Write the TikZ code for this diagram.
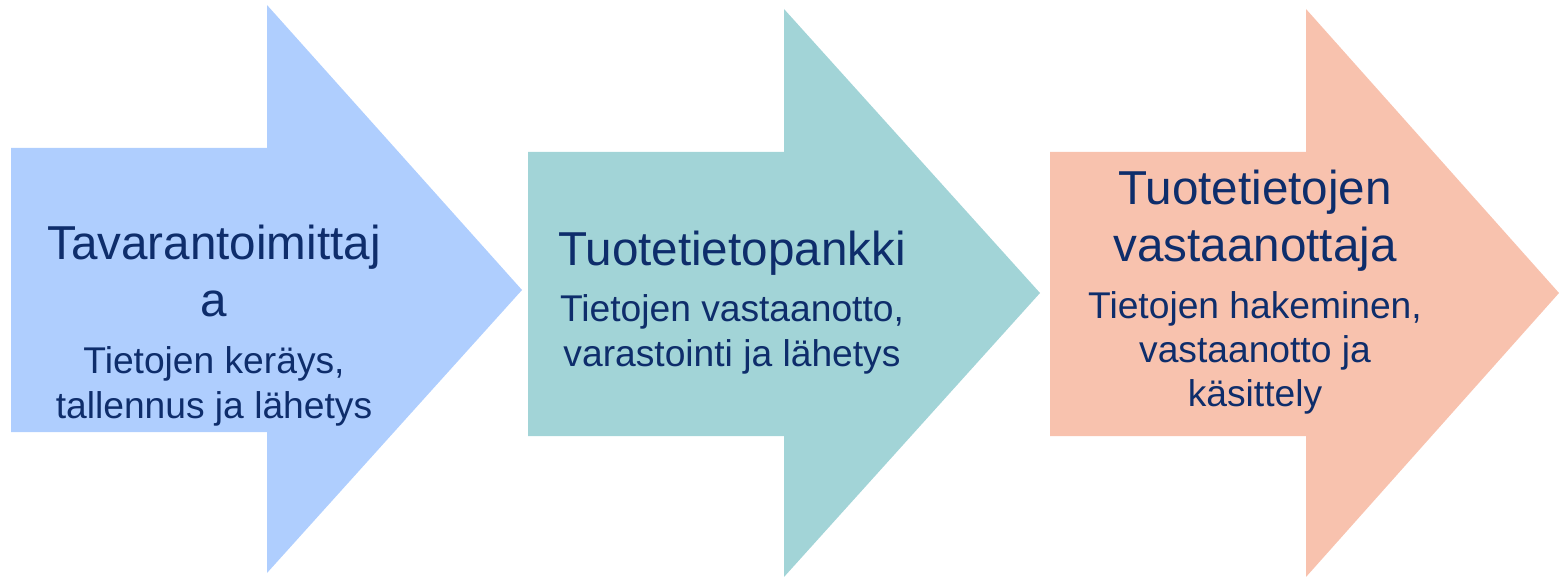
\documentclass[tikz,border=0pt]{standalone}
\usepackage{fontspec}
\setmainfont{Liberation Sans}
\definecolor{arrowblue}{RGB}{175,206,254}
\definecolor{arrowteal}{RGB}{162,212,215}
\definecolor{arrowsalmon}{RGB}{248,194,174}
\definecolor{textnavy}{RGB}{14,45,107}
\tikzset{
    title/.style={text=textnavy, align=center, inner sep=0pt, anchor=base,
        font=\fontsize{23.8}{28.5}\selectfont},
    task/.style={text=textnavy, align=center, inner sep=0pt, anchor=base,
        font=\fontsize{18.6}{22.2}\selectfont}
}
\begin{document}
\begin{tikzpicture}[x=0.5pt, y=-0.5pt]
    \useasboundingbox (0,0) rectangle (1559,577);
    % draw the arrows
    \fill[arrowblue] (11,148) -- (267,148) -- (267,5) -- (522,290) -- (267,573) -- (267,432) -- (11,432) -- cycle;
    \fill[arrowteal] (528,152) -- (784,152) -- (784,9) -- (1040,293) -- (784,577) -- (784,436) -- (528,436) -- cycle;
    \fill[arrowsalmon] (1050,152) -- (1306,152) -- (1306,9) -- (1559,293) -- (1306,577) -- (1306,436) -- (1050,436) -- cycle;
    % the texts (anchor base sits on the last line)
    \node[title] (t1) at (214,316.5) {Tavarantoimittaj\\a};
    \node[task] (s1) at (214,418) {Tietojen keräys,\\tallennus ja lähetys};
    \node[title] (t2) at (732,265.5) {Tuotetietopankki};
    \node[task] (s2) at (732,366) {Tietojen vastaanotto,\\varastointi ja lähetys};
    \node[title] (t3) at (1255,262) {Tuotetietojen\\vastaanottaja};
    \node[task] (s3) at (1255,407) {Tietojen hakeminen,\\vastaanotto ja\\käsittely};
\end{tikzpicture}
\end{document}
